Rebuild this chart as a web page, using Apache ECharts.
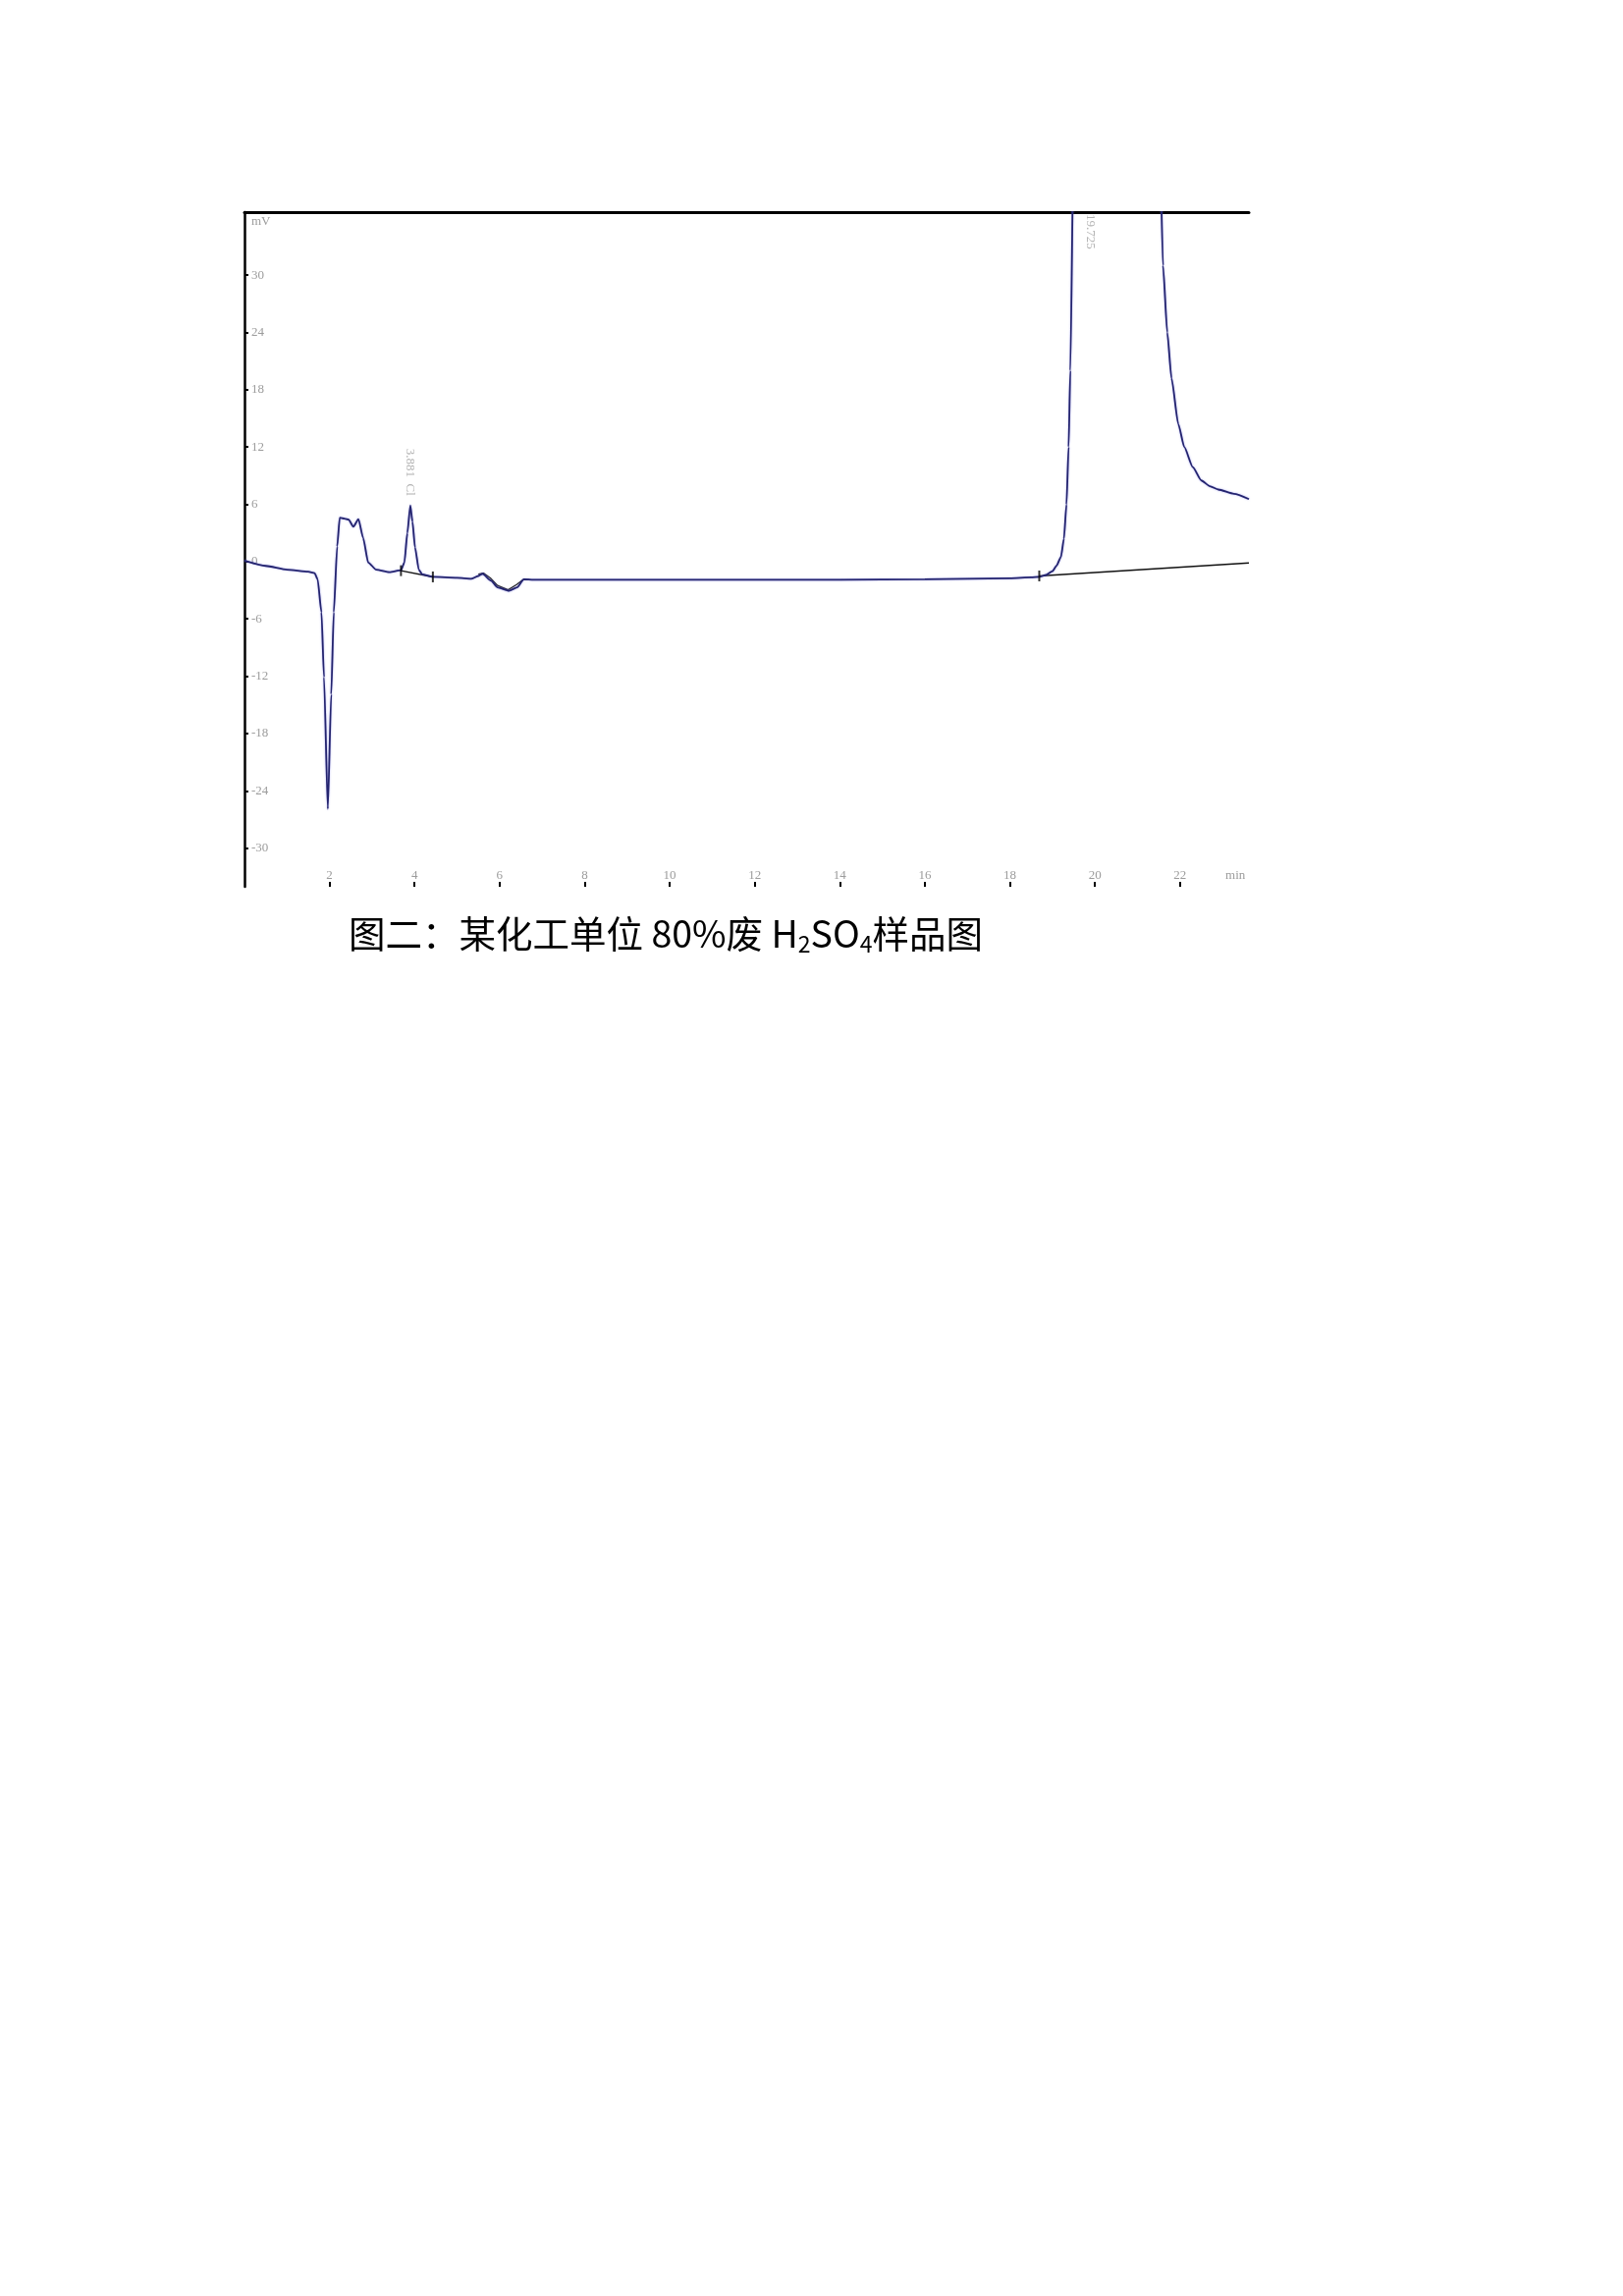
<!DOCTYPE html>
<html>
<head>
<meta charset="utf-8">
<script src="https://cdn.jsdelivr.net/npm/echarts@6/dist/echarts.min.js"></script>
<style>
html,body{margin:0;padding:0;background:#fff;}
#chart{width:1653px;height:2338px;}
</style>
</head>
<body>
<div id="chart"></div>
<script>
// Retention time (min) and detector signal (mV) of the sample trace
const timeMin = [0, 0.5, 1.0, 1.5, 1.65, 1.72, 1.81, 1.87, 1.96, 2.04, 2.10, 2.18, 2.24, 2.35, 2.45, 2.56, 2.68, 2.79, 2.91, 3.10, 3.41, 3.68, 3.76, 3.83, 3.90, 3.95, 4.01, 4.10, 4.18, 4.43, 5.00, 5.33, 5.50, 5.60, 5.80, 5.95, 6.22, 6.41, 6.57, 6.80, 8, 10, 12, 14, 16, 18, 18.5, 18.69, 18.85, 19.0, 19.1, 19.2, 19.27, 19.33, 19.38, 19.42, 19.5, 20.5, 21.52, 21.6, 21.7, 21.8, 21.96, 22.1, 22.3, 22.5, 22.7, 22.9, 23.27, 23.62];
const signalMv = [0.1, -0.45, -0.85, -1.05, -1.2, -1.85, -5.3, -12.1, -25.9, -13.9, -5.3, 1.6, 4.6, 4.5, 4.4, 3.65, 4.45, 2.5, -0.1, -0.85, -1.1, -0.9, -0.1, 3.0, 5.9, 4.2, 1.5, -0.85, -1.34, -1.6, -1.7, -1.8, -1.5, -1.27, -2.0, -2.7, -3.05, -2.7, -1.85, -1.9, -1.9, -1.9, -1.9, -1.9, -1.85, -1.75, -1.65, -1.6, -1.4, -1.0, -0.4, 0.5, 2.4, 6, 12, 20, 45, 400, 45, 31, 24, 19.2, 14.4, 12, 9.9, 8.5, 7.9, 7.55, 7.1, 6.55];

// Integration baselines (black)
const base1Time = [3.68, 4.43];
const base1Mv = [-0.95, -1.6];
const base2Time = [5.50, 5.62, 5.78, 5.95, 6.20, 6.40, 6.55, 6.70];
const base2Mv = [-1.3, -1.2, -1.7, -2.5, -2.95, -2.4, -1.9, -1.9];
const base3Time = [18.69, 23.62];
const base3Mv = [-1.5, -0.15];

// Integration marks
const markTime = [3.68, 4.43, 18.69];
const markMv = [-0.95, -1.6, -1.5];

// Peak labels
const peakTime = [3.90, 19.88];
const peakMv = [6.9, 36.4];
const peakText = ['3.881  Cl', '19.725'];
const peakAlign = ['right', 'left'];

// Axis ticks / labels
const yTickValues = [30, 24, 18, 12, 6, 0, -6, -12, -18, -24, -30];
const yUnitPos = 35.66;
const xTickValues = [2, 4, 6, 8, 10, 12, 14, 16, 18, 20, 22];
const xUnitPos = 23.3;

const zip = (a, b) => a.map((v, i) => [v, b[i]]);

const chart = echarts.init(document.getElementById('chart'), null, {renderer: 'canvas'});
const labelColor = '#9c9c9c';
const option = {
  backgroundColor: '#ffffff',
  animation: false,
  grid: {left: 249, right: 381, top: 216, bottom: 1435, containLabel: false},
  xAxis: [{
    type: 'value', min: 0, max: 23.62, position: 'bottom',
    axisLine: {show: false, onZero: false},
    axisTick: {show: true, inside: true, length: 5, customValues: xTickValues, lineStyle: {color: '#000', width: 2}},
    axisLabel: {inside: true, margin: 5, color: labelColor, fontSize: 13, fontFamily: 'Liberation Serif',
      customValues: xTickValues.concat([xUnitPos]),
      formatter: v => (v > 23 ? 'min' : String(Math.round(v)))},
    splitLine: {show: false}
  }, {
    type: 'value', min: 0, max: 23.62, position: 'top',
    axisLine: {show: true, onZero: false, lineStyle: {color: '#000', width: 3}},
    axisTick: {show: false}, axisLabel: {show: false}, splitLine: {show: false}
  }],
  yAxis: {
    type: 'value', min: -34.05, max: 36.6, position: 'left',
    axisLine: {show: true, onZero: false, lineStyle: {color: '#000', width: 2.5}},
    axisTick: {show: true, inside: true, length: 4, customValues: yTickValues, lineStyle: {color: '#000', width: 2}},
    axisLabel: {inside: true, margin: 7, color: labelColor, fontSize: 13, fontFamily: 'Liberation Serif',
      customValues: yTickValues.concat([yUnitPos]),
      formatter: v => (v > 35 ? 'mV' : String(Math.round(v)))},
    splitLine: {show: false}
  },
  series: [
    {type: 'line', data: zip(base1Time, base1Mv), symbol: 'none', lineStyle: {color: '#111', width: 1.5}, z: 3},
    {type: 'line', data: zip(base2Time, base2Mv), symbol: 'none', lineStyle: {color: '#222', width: 1.3}, z: 3},
    {type: 'line', data: zip(base3Time, base3Mv), symbol: 'none', lineStyle: {color: '#111', width: 1.5}, z: 3},
    {type: 'line', data: zip(timeMin, signalMv), symbol: 'none', clip: true,
      smooth: 0.2, smoothMonotone: 'x',
      lineStyle: {color: '#24246e', width: 1.8, shadowColor: 'rgba(110,110,230,0.6)', shadowBlur: 2}, z: 4},
    {type: 'scatter', data: zip(markTime, markMv), symbol: 'rect', symbolSize: [2, 11],
      itemStyle: {color: '#000'}, z: 5},
    {type: 'scatter', symbolSize: 0, z: 5,
      data: zip(peakTime, peakMv).map((d, i) => ({value: d, name: peakText[i],
        label: {align: peakAlign[i]}})),
      label: {show: true, position: 'inside', rotate: -90, verticalAlign: 'middle',
        color: '#a0a0a0', fontSize: 13, fontFamily: 'Liberation Serif',
        formatter: p => p.name}}
  ],
  graphic: [{
    type: 'text', left: 355, top: 932,
    style: {
      text: '{a|图二：某化工单位 80%废 H}{s|2}{a|SO}{s|4}{a|样品图}',
      rich: {
        a: {fontSize: 37.5, fontFamily: 'Noto Sans CJK SC', fill: '#000', lineHeight: 45},
        s: {fontSize: 23, fontFamily: 'Noto Sans CJK SC', fill: '#000', lineHeight: 23, verticalAlign: 'bottom'}
      }
    }
  }]
};
chart.setOption(option);
</script>
</body>
</html>
